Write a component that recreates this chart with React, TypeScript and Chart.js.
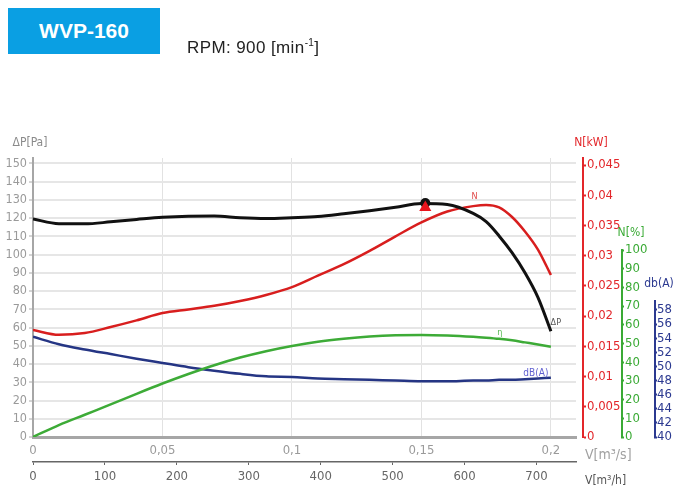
import React, { useEffect, useRef } from 'react';
import { Chart, registerables } from 'chart.js';

Chart.register(...registerables);

// ---- data (flow in m3/s) ----
const FLOW = [0, 0.01, 0.02, 0.03, 0.04, 0.05, 0.06, 0.07, 0.08, 0.09, 0.1, 0.11, 0.12, 0.13, 0.14, 0.15, 0.16, 0.17, 0.175, 0.18, 0.185, 0.19, 0.195, 0.2];
const DP_PA = [119.5, 116.9, 116.8, 117.9, 119.2, 120.4, 121.0, 121.1, 120.2, 119.8, 120.2, 120.8, 122.3, 124.0, 125.9, 127.9, 127.4, 122.5, 118.0, 110.2, 101.0, 90.0, 76.5, 58.0];
const N_KW = [0.0177, 0.0169, 0.0172, 0.0182, 0.0193, 0.0205, 0.0211, 0.0217, 0.0225, 0.0235, 0.0248, 0.0267, 0.0286, 0.0308, 0.0332, 0.0355, 0.0373, 0.0382, 0.0384, 0.038, 0.0364, 0.034, 0.031, 0.0268];
const ETA_PCT = [0, 6.4, 11.9, 17.4, 23.1, 28.6, 33.7, 38.4, 42.5, 45.9, 48.7, 50.9, 52.5, 53.7, 54.4, 54.6, 54.3, 53.6, 53.1, 52.5, 51.7, 50.6, 49.5, 48.3];
const DBA = [54.2, 53.15, 52.4, 51.75, 51.1, 50.5, 49.9, 49.4, 48.95, 48.6, 48.5, 48.3, 48.2, 48.1, 48.0, 47.9, 47.9, 48.0, 48.0, 48.1, 48.1, 48.2, 48.3, 48.4];

// operating point
const OP_FLOW = 0.1515;
const OP_DP = 128.2;
const OP_DP_TRIANGLE = 125.8;

// ticks
const X_TICKS = [0, 0.05, 0.1, 0.15, 0.2];
const X2_TICKS = [0, 100, 200, 300, 400, 500, 600, 700];
const Y_TICKS = [0, 10, 20, 30, 40, 50, 60, 70, 80, 90, 100, 110, 120, 130, 140, 150];
const N_TICKS = [0, 0.005, 0.01, 0.015, 0.02, 0.025, 0.03, 0.035, 0.04, 0.045];
const ETA_TICKS = [0, 10, 20, 30, 40, 50, 60, 70, 80, 90, 100];
const DB_TICKS = [40, 42, 44, 46, 48, 50, 52, 54, 56, 58];

// axis ranges
const X_MAX = 0.2097;
const Y_MAX = 152.9;
const N_MAX = 0.04616;
const ETA_MAX = 149.2;
const DB_MIN = 40;
const DB_MAX = 79.54;

const FONT = "'Liberation Sans Narrow', 'DejaVu Sans Condensed', 'Roboto Condensed', Roboto, sans-serif";
const BLACK = '#111111';
const RED = '#d81e1e';
const RED_AX = '#e3262a';
const GREEN = '#3dab37';
const GREEN_AX = '#3aaa35';
const BLUE = '#253584';
const BLUE_AX = '#2b3990';
const GRAY = '#9a9a9a';

const comma = (v: number) => String(+v.toFixed(3)).replace('.', ',');
const setTicks = (arr: number[]) => (s: any) => {
  s.ticks = arr.map((v) => ({ value: v }));
};

const decor = {
  id: 'decor',
  afterDraw(chart: any) {
    const { ctx, scales, chartArea } = chart;
    const { x, y, yN, yEta, yDb } = scales;
    ctx.save();
    // green & blue axis lines (partial height)
    ctx.lineWidth = 2;
    ctx.strokeStyle = GREEN_AX;
    ctx.beginPath();
    ctx.moveTo(yEta.left + 1, yEta.getPixelForValue(0) + 1);
    ctx.lineTo(yEta.left + 1, yEta.getPixelForValue(100) - 1);
    ctx.stroke();
    ctx.strokeStyle = BLUE_AX;
    ctx.beginPath();
    ctx.moveTo(yDb.left + 1, yDb.getPixelForValue(40) + 1);
    ctx.lineTo(yDb.left + 1, yDb.getPixelForValue(59.4));
    ctx.stroke();

    ctx.textBaseline = 'middle';
    ctx.textAlign = 'center';
    ctx.font = `12px ${FONT}`;
    ctx.fillStyle = '#8a8a8a';
    ctx.fillText('ΔP[Pa]', y.right - 3, chartArea.top - 15);
    ctx.fillStyle = RED_AX;
    ctx.fillText('N[kW]', yN.left + 8, chartArea.top - 15);
    ctx.fillStyle = GREEN_AX;
    ctx.fillText('N[%]', yEta.left + 10, yEta.getPixelForValue(100) - 17);
    ctx.fillStyle = BLUE_AX;
    ctx.fillText('db(A)', yDb.left + 5, yDb.getPixelForValue(58) - 26);

    ctx.textAlign = 'left';
    ctx.font = `14px ${FONT}`;
    ctx.fillStyle = '#a0a0a0';
    ctx.fillText('V[m³/s]', yN.left + 2, chartArea.bottom + 18);
    ctx.font = `12px ${FONT}`;
    ctx.fillStyle = '#555';
    ctx.fillText('V[m³/h]', yN.left + 2, chartArea.bottom + 44);

    // curve labels
    ctx.textAlign = 'center';
    ctx.font = `9px ${FONT}`;
    ctx.fillStyle = '#e04848';
    ctx.fillText('N', x.getPixelForValue(0.1705), yN.getPixelForValue(0.0398));
    ctx.fillStyle = '#555';
    ctx.fillText('ΔP', x.getPixelForValue(0.2019), y.getPixelForValue(62.5));
    ctx.fillStyle = '#55b850';
    ctx.fillText('η', x.getPixelForValue(0.1803), yEta.getPixelForValue(55.6));
    ctx.font = `10px ${FONT}`;
    ctx.fillStyle = '#6060d0';
    ctx.fillText('dB(A)', x.getPixelForValue(0.1942), yDb.getPixelForValue(49.07));
    ctx.restore();
  },
};

const lineDs = (label: string, ys: number[], color: string, axis: string, width: number) => ({
  type: 'line',
  label,
  data: FLOW.map((f, i) => ({ x: f, y: ys[i] })),
  borderColor: color,
  backgroundColor: color,
  borderWidth: width,
  pointRadius: 0,
  cubicInterpolationMode: 'monotone',
  fill: false,
  xAxisID: 'x',
  yAxisID: axis,
});

export default function App() {
  const ref = useRef<HTMLCanvasElement | null>(null);
  useEffect(() => {
    if (!ref.current) return;
    const chart = new Chart(ref.current, {
      type: 'line',
      data: {
        datasets: [
          {
            type: 'line',
            label: 'op-triangle',
            data: [{ x: OP_FLOW, y: OP_DP_TRIANGLE }],
            showLine: false,
            pointStyle: 'triangle',
            pointRadius: 7,
            backgroundColor: '#e8141c',
            borderColor: '#e8141c',
            borderWidth: 0,
            xAxisID: 'x',
            yAxisID: 'y',
          },
          {
            type: 'line',
            label: 'op-circle',
            data: [{ x: OP_FLOW, y: OP_DP }],
            showLine: false,
            pointStyle: 'circle',
            pointRadius: 5,
            backgroundColor: BLACK,
            borderColor: BLACK,
            borderWidth: 0,
            xAxisID: 'x',
            yAxisID: 'y',
          },
          lineDs('ΔP', DP_PA, BLACK, 'y', 3),
          lineDs('N', N_KW, RED, 'yN', 2.5),
          lineDs('η', ETA_PCT, GREEN, 'yEta', 2.5),
          lineDs('dB(A)', DBA, BLUE, 'yDb', 2.5),
        ] as any,
      },
      options: {
        animation: false,
        responsive: false,
        events: [],
        layout: { padding: { top: 158, left: 0, right: 0, bottom: 0 } },
        plugins: { legend: { display: false }, tooltip: { enabled: false }, title: { display: false } },
        scales: {
          x: {
            type: 'linear',
            position: 'bottom',
            min: 0,
            max: X_MAX,
            afterBuildTicks: setTicks(X_TICKS),
            afterFit: (s: any) => { s.height = 25; },
            grid: { color: '#e2e2e2', lineWidth: 1, drawTicks: false },
            border: { color: '#a6a6a6', width: 3 },
            ticks: { color: GRAY, font: { family: FONT, size: 13 }, padding: 6, maxRotation: 0, autoSkip: false, callback: (v: any) => comma(+v) },
          },
          x2: {
            type: 'linear',
            position: 'bottom',
            min: 0,
            max: X_MAX * 3600,
            afterBuildTicks: setTicks(X2_TICKS),
            afterFit: (s: any) => { s.height = 24; },
            grid: { drawOnChartArea: false, drawTicks: true, tickLength: 3, tickColor: '#666', lineWidth: 1 },
            border: { color: '#666', width: 1.5 },
            ticks: { color: '#666', font: { family: FONT, size: 13 }, padding: 4, maxRotation: 0, autoSkip: false, callback: (v: any) => String(v) },
          },
          y: {
            type: 'linear',
            position: 'left',
            min: 0,
            max: Y_MAX,
            afterBuildTicks: setTicks(Y_TICKS),
            afterFit: (s: any) => { s.width = 33; },
            grid: { color: '#e6e6e6', lineWidth: 2, tickLength: 4, tickColor: '#aaaaaa', tickWidth: 1 },
            border: { color: '#a6a6a6', width: 2 },
            ticks: { color: GRAY, font: { family: FONT, size: 12.5 }, padding: 2, autoSkip: false, callback: (v: any) => String(v) },
          },
          spacer: {
            type: 'linear',
            position: 'right',
            display: true,
            grid: { display: false },
            border: { display: false },
            ticks: { display: false },
            afterFit: (s: any) => { s.width = 7; },
          },
          yN: {
            type: 'linear',
            position: 'right',
            min: 0,
            max: N_MAX,
            afterBuildTicks: setTicks(N_TICKS),
            afterFit: (s: any) => { s.width = 38; },
            grid: { drawOnChartArea: false, tickLength: 3, tickColor: RED_AX, tickWidth: 2 },
            border: { color: RED_AX, width: 2 },
            ticks: { color: RED_AX, font: { family: FONT, size: 13 }, padding: 1, autoSkip: false, callback: (v: any) => comma(+v) },
          },
          yEta: {
            type: 'linear',
            position: 'right',
            min: 0,
            max: ETA_MAX,
            afterBuildTicks: setTicks(ETA_TICKS),
            afterFit: (s: any) => { s.width = 33; },
            grid: { drawOnChartArea: false, tickLength: 3, tickColor: GREEN_AX, tickWidth: 2 },
            border: { display: false },
            ticks: { color: GREEN_AX, font: { family: FONT, size: 13 }, padding: 1, autoSkip: false, callback: (v: any) => String(v) },
          },
          yDb: {
            type: 'linear',
            position: 'right',
            min: DB_MIN,
            max: DB_MAX,
            afterBuildTicks: setTicks(DB_TICKS),
            afterFit: (s: any) => { s.width = 20; },
            grid: { drawOnChartArea: false, tickLength: 3, tickColor: BLUE_AX, tickWidth: 2 },
            border: { display: false },
            ticks: { color: BLUE_AX, font: { family: FONT, size: 13 }, padding: 0, autoSkip: false, callback: (v: any) => String(v) },
          },
        } as any,
      },
      plugins: [decor],
    } as any);
    return () => chart.destroy();
  }, []);

  return (
    <div style={{ position: 'fixed', left: 0, top: 0, width: 674, height: 486, background: '#fff', overflow: 'hidden' }}>
      <canvas ref={ref} width={674} height={486} style={{ position: 'absolute', left: 0, top: 0, display: 'block' }} />
      <div
        style={{
          position: 'absolute', left: 8, top: 8, width: 152, height: 46, background: '#0a9fe3', color: '#fff',
          fontFamily: "'Liberation Sans', Arial, sans-serif", fontWeight: 'bold', fontSize: 21,
          display: 'flex', alignItems: 'center', justifyContent: 'center',
        }}
      >
        WVP-160
      </div>
      <div
        style={{
          position: 'absolute', left: 187, top: 37, fontFamily: "'Liberation Sans', Arial, sans-serif", fontSize: 17,
          color: '#222', lineHeight: '22px', whiteSpace: 'nowrap', letterSpacing: 0.4,
        }}
      >
        RPM: 900 [min<sup style={{ fontSize: 10, verticalAlign: 'top', lineHeight: '12px' }}>-1</sup>]
      </div>
    </div>
  );
}
